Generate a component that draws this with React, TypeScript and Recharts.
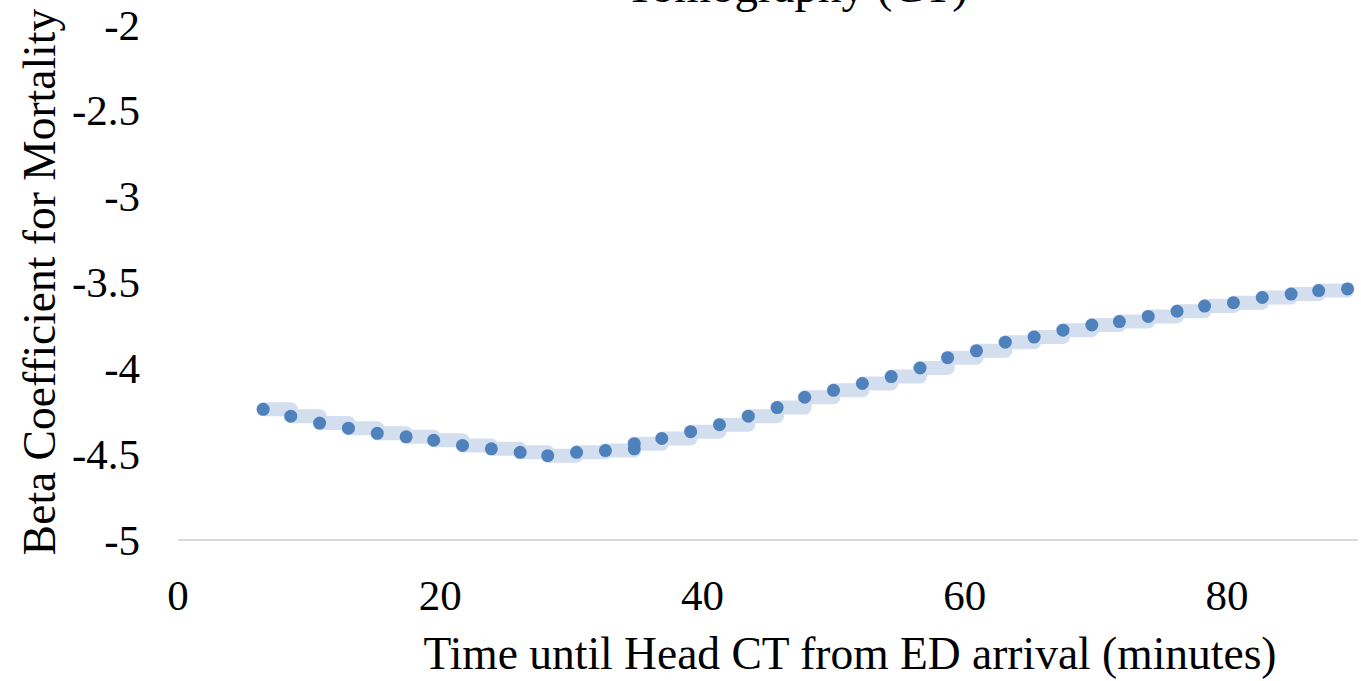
import { LineChart, Line, XAxis, YAxis, Label } from "recharts";

const minutes = [
  6.5, 8.6, 10.8, 13.0, 15.2, 17.4, 19.5, 21.7, 23.9, 26.1, 28.2, 30.4, 32.6, 34.8, 34.8,
  36.9, 39.1, 41.3, 43.5, 45.7, 47.8, 50.0, 52.2, 54.4, 56.6, 58.7, 60.9, 63.1, 65.3,
  67.5, 69.7, 71.8, 74.0, 76.2, 78.3, 80.5, 82.7, 84.9, 87.0, 89.2,
];

const beta = [
  -4.24, -4.28, -4.32, -4.35, -4.38, -4.4, -4.42, -4.45, -4.47, -4.49, -4.51, -4.49, -4.48, -4.47, -4.44,
  -4.41, -4.37, -4.33, -4.28, -4.23, -4.17, -4.13, -4.09, -4.05, -4.0, -3.94, -3.9, -3.85, -3.82,
  -3.78, -3.75, -3.73, -3.7, -3.67, -3.64, -3.62, -3.59, -3.57, -3.55, -3.54,
];

const xTicks = [0, 20, 40, 60, 80];
const yTicks = [-5, -4.5, -4, -3.5, -3, -2.5, -2];

const titleText = "Tomography (CT)";
const xTitle = "Time until Head CT from ED arrival (minutes)";
const yTitle = "Beta Coefficient for Mortality";

const data = minutes.map((m, i) => ({ minutes: m, beta: beta[i] }));

const FONT = "Liberation Serif, Times New Roman, Tinos, DejaVu Serif, serif";
const DOT = "#4f81bd";
const BAND = "#d3deef";

export default function App() {
  return (
    <div style={{ position: "absolute", left: 0, top: 0, width: 1361, height: 681, background: "#fff", overflow: "hidden", fontFamily: FONT }}>
      <svg width={1361} height={681} style={{ position: "absolute", left: 0, top: 0 }}>
        <text x={968} y={2} textAnchor="end" style={{ fontFamily: FONT }} fontSize={47} fill="#000">
          {titleText}
        </text>
      </svg>
      <LineChart
        width={1361}
        height={681}
        data={data}
        margin={{ top: 24, right: 3, left: 0, bottom: 0 }}
        style={{ position: "absolute", left: 0, top: 0 }}
      >
        <XAxis
          dataKey="minutes"
          type="number"
          domain={[0, 90]}
          ticks={xTicks}
          height={141}
          tickLine={false}
          tickSize={0}
          tickMargin={39}
          axisLine={{ stroke: "#d9d9d9", strokeWidth: 2 }}
          tick={{ fill: "#000", fontSize: 43, style: { fontFamily: FONT } }}
        >
          <Label
            content={({ viewBox }: any) => (
              <text x={850} y={viewBox.y + 129} textAnchor="middle" style={{ fontFamily: FONT }} fontSize={45.5} fill="#000">
                {xTitle}
              </text>
            )}
          />
        </XAxis>
        <YAxis
          type="number"
          domain={[-5, -2]}
          ticks={yTicks}
          width={178}
          axisLine={false}
          tickLine={false}
          tickSize={0}
          tickMargin={38}
          tick={{ fill: "#000", fontSize: 43, style: { fontFamily: FONT } }}
        >
          <Label
            content={({ viewBox }: any) => {
              const cy = viewBox.y + viewBox.height / 2;
              return (
                <text
                  x={55}
                  y={cy}
                  transform={`rotate(-90, 55, ${cy})`}
                  textAnchor="middle"
                  style={{ fontFamily: FONT }}
                  fontSize={45.5}
                  fill="#000"
                >
                  {yTitle}
                </text>
              );
            }}
          />
        </YAxis>
        <Line
          type="stepAfter"
          dataKey="beta"
          stroke={BAND}
          strokeWidth={14}
          strokeLinecap="round"
          strokeLinejoin="round"
          dot={false}
          activeDot={false}
          isAnimationActive={false}
        />
        <Line
          type="linear"
          dataKey="beta"
          stroke="none"
          dot={{ r: 6.5, fill: DOT, stroke: "none" }}
          activeDot={false}
          isAnimationActive={false}
        />
      </LineChart>
    </div>
  );
}
